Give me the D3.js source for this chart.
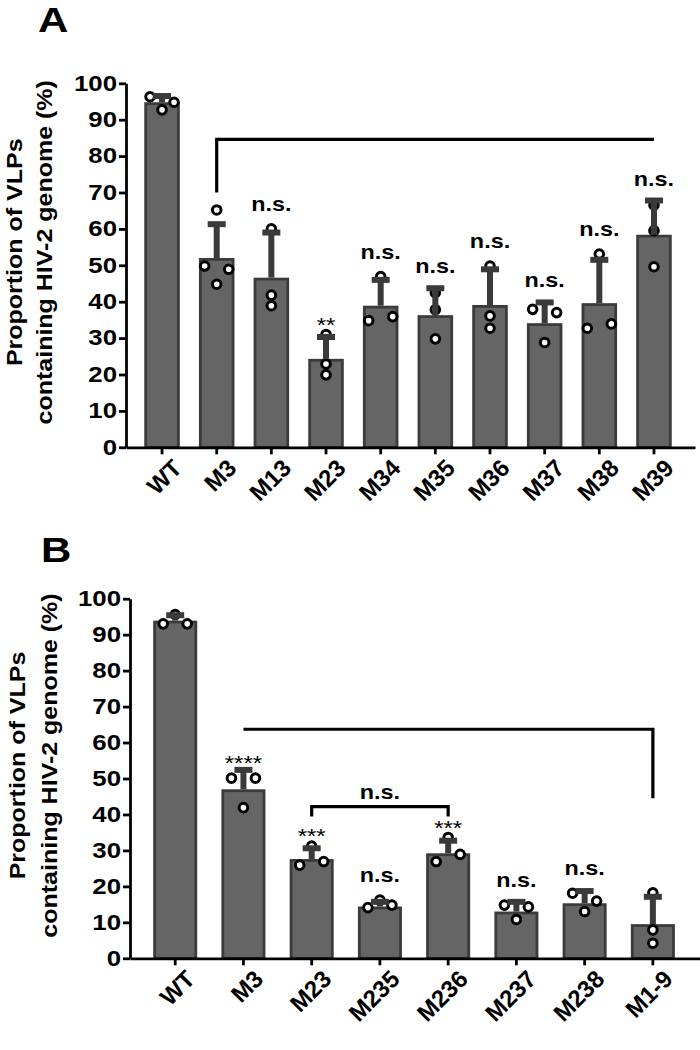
<!DOCTYPE html>
<html><head><meta charset="utf-8">
<script src="https://cdn.jsdelivr.net/npm/d3@7"></script>
<style>
body{margin:0;background:#fff}
svg{display:block}
text{font-family:"Liberation Sans",Arial,sans-serif}
</style>
</head><body>
<svg id="c" width="700" height="1050"></svg>
<script>
// ---------- DATA ----------
const yTicks = [0,10,20,30,40,50,60,70,80,90,100];

// Panel A
const catsA = ["WT","M3","M13","M23","M34","M35","M36","M37","M38","M39"];
const meanA = [94.8, 52.0, 46.6, 24.3, 38.9, 36.3, 39.1, 34.1, 39.6, 58.4];
const sdA   = [1.7, 9.3, 12.4, 6.0, 7.1, 7.4, 9.8, 5.7, 11.9, 9.4];
const ptsA  = [[96.3,92.7,94.8],[65.2,49.8,44.8,48.9],[60.0,41.8,38.9],[31.0,22.9,19.9],
               [46.9,34.8,35.9],[42.5,37.8,29.8],[49.8,36.1,32.7],[37.9,37.0,28.8],
               [53.1,32.7,33.9],[66.5,59.5,49.6]];
const sigA  = ["","","n.s.","**","n.s.","n.s.","n.s.","n.s.","n.s.","n.s."];
const bracketsA = [{from:"M3", to:"M39", level:84.6, dropFrom:70.0, dropTo:null, label:""}];

// Panel B
const catsB = ["WT","M3","M23","M235","M236","M237","M238","M1-9"];
const meanB = [93.9, 47.0, 27.6, 14.4, 29.2, 13.0, 15.3, 9.5];
const sdB   = [1.5, 5.4, 3.0, 1.3, 3.5, 2.7, 3.4, 7.6];
const ptsB  = [[93.0,95.6,93.0],[50.1,50.1,41.9],[25.9,31.2,26.9],[14.1,16.2,14.8],
               [26.9,33.6,28.9],[14.8,10.8,14.3],[18.1,13.0,15.9],[18.2,7.9,4.2]];
const sigB  = ["","****","***","n.s.","***","n.s.","n.s.",""];
const bracketsB = [{from:"M23", to:"M236", level:42.2, dropFrom:39.4, dropTo:39.4, label:"n.s."},
                   {from:"M3", to:"M1-9", level:63.7, dropFrom:null, dropTo:44.5, label:""}];

const yTitle1 = "Proportion of VLPs";
const yTitle2 = "containing HIV-2 genome (%)";

// ---------- DRAW ----------
const svg = d3.select("#c");
const SX = 1.2;            // horizontal stretch of the lettering
const SQ = 0.85;           // glyph-height squeeze for rotated lettering
const BAR_FILL = "#656565", BAR_STROKE = "#3b3b3b", ERR = "#3a3a3a";

function panel(o){
  const g = svg.append("g");
  const x = d3.scaleBand().domain(o.cats).range([o.x0, o.x1])
      .paddingInner(o.pi).paddingOuter(o.po).align(o.al);
  const y = d3.scaleLinear().domain([0,100]).range([o.yb, o.yt]);
  const bw = x.bandwidth(), cx = d => x(d) + bw/2;
  const sw = 2.8;

  // bars
  g.selectAll("rect.bar").data(o.cats).join("rect")
    .attr("x", d => x(d) + sw/2)
    .attr("width", bw - sw)
    .attr("y", (d,i) => y(o.mean[i]) + sw/2)
    .attr("height", (d,i) => y(0) - y(o.mean[i]) - sw/2)
    .attr("fill", BAR_FILL).attr("stroke", BAR_STROKE).attr("stroke-width", sw);

  // points with simple collision spreading
  const R = 4.3, D = 12, THR = 10;
  const pts = [];
  o.cats.forEach((c,i) => {
    const arr = o.pts[i].map((v,k) => ({v, k, c}));
    const sorted = arr.slice().sort((a,b) => b.v - a.v || a.k - b.k);
    const clusters = [];
    sorted.forEach(p => {
      const last = clusters[clusters.length-1];
      if (last && Math.abs(y(last[last.length-1].v) - y(p.v)) < THR) last.push(p);
      else clusters.push([p]);
    });
    clusters.forEach(cl => {
      cl.sort((a,b) => a.k - b.k);
      const n = cl.length;
      cl.forEach((p,j) => {
        p.dx = n === 1 ? 0 : n === 2 ? (j === 0 ? -D : D) : (j - (n-1)/2) * D;
        pts.push(p);
      });
    });
  });
  g.selectAll("circle.pt").data(pts).join("circle")
    .attr("cx", p => cx(p.c) + p.dx).attr("cy", p => y(p.v)).attr("r", R)
    .attr("fill", "#fff").attr("stroke", "#000").attr("stroke-width", 3);

  // error bars (upper only), drawn over points
  g.selectAll("line.stem").data(o.cats).join("line")
    .attr("x1", cx).attr("x2", cx)
    .attr("y1", (d,i) => y(o.mean[i])).attr("y2", (d,i) => y(o.mean[i] + o.sd[i]))
    .attr("stroke", ERR).attr("stroke-width", 6);
  g.selectAll("line.cap").data(o.cats).join("line")
    .attr("x1", d => cx(d) - 9).attr("x2", d => cx(d) + 9)
    .attr("y1", (d,i) => y(o.mean[i] + o.sd[i])).attr("y2", (d,i) => y(o.mean[i] + o.sd[i]))
    .attr("stroke", ERR).attr("stroke-width", 6);

  // axes
  const ya = g.append("g").attr("transform", `translate(${o.x0},0)`)
    .call(d3.axisLeft(y).tickValues(yTicks).tickSizeInner(7).tickSizeOuter(0).tickPadding(0.5));
  const xa = g.append("g").attr("transform", `translate(0,${o.yb})`)
    .call(d3.axisBottom(x).tickSizeInner(7).tickSizeOuter(0));
  [ya, xa].forEach(a => {
    a.select(".domain").attr("stroke", "#000").attr("stroke-width", 2.8);
    a.selectAll(".tick line").attr("stroke", "#000").attr("stroke-width", 2.8);
  });
  ya.selectAll(".tick text")
    .attr("font-size", 21.5).attr("font-weight", "bold").attr("fill", "#000")
    .attr("font-family", '"Liberation Sans",Arial,sans-serif')
    .attr("transform", `scale(${SX},1)`);
  xa.selectAll(".tick text")
    .attr("font-size", 24).attr("font-weight", "bold").attr("fill", "#000")
    .attr("font-family", '"Liberation Sans",Arial,sans-serif')
    .attr("x", 0).attr("y", 0).attr("dy", "0.72em")
    .attr("text-anchor", "end")
    .attr("transform", `translate(${o.lx},${o.ly}) rotate(-45)`);

  // significance labels
  const topOf = i => Math.min(y(o.mean[i] + o.sd[i]) - 3, y(d3.max(o.pts[i])) - R - 1.5);
  o.cats.forEach((c,i) => {
    const s = o.sig[i];
    if (!s) return;
    const star = s.includes("*");
    g.append("text")
      .attr("transform", `translate(${cx(c)},${topOf(i) + (star ? 3 : -12)}) scale(${SX},1)`)
      .attr("text-anchor", "middle")
      .attr("font-size", star ? 20 : 19.5)
      .attr("font-weight", star ? "normal" : "bold")
      .text(s);
  });

  // brackets
  o.brackets.forEach(b => {
    const xa0 = cx(b.from), xa1 = cx(b.to), yl = y(b.level);
    let p = "";
    p += b.dropFrom != null ? `M${xa0},${y(b.dropFrom)}L${xa0},${yl}` : `M${xa0},${yl}`;
    p += `L${xa1},${yl}`;
    if (b.dropTo != null) p += `L${xa1},${y(b.dropTo)}`;
    g.append("path").attr("d", p).attr("fill", "none").attr("stroke", "#000")
      .attr("stroke-width", 3.2).attr("stroke-linejoin", "miter");
    if (b.label) {
      g.append("text")
        .attr("transform", `translate(${(xa0 + xa1)/2},${yl - 8}) scale(${SX},1)`)
        .attr("text-anchor", "middle").attr("font-size", 19.5).attr("font-weight", "bold")
        .text(b.label);
    }
  });

  // y title
  const ym = (o.yb + o.yt) / 2 - 13;
  [[yTitle1, o.t1], [yTitle2, o.t2]].forEach(([t, bx]) => {
    g.append("text")
      .attr("transform", `translate(${bx},${ym}) rotate(-90) scale(1,${SQ})`)
      .attr("text-anchor", "middle").attr("font-size", 25).attr("font-weight", "bold")
      .text(t);
  });

  // panel letter
  g.append("text")
    .attr("transform", `translate(${o.letterX},${o.letterY}) scale(${SX},1)`)
    .attr("font-size", 35).attr("font-weight", "bold").text(o.letter);
}

panel({cats:catsA, mean:meanA, sd:sdA, pts:ptsA, sig:sigA, brackets:bracketsA,
       x0:126, x1:695, pi:0.35, po:0.38, al:0.44, yb:447.3, yt:83.3,
       lx:9, ly:10, t1:22, t2:52, letter:"A", letterX:38, letterY:32});
panel({cats:catsB, mean:meanB, sd:sdB, pts:ptsB, sig:sigB, brackets:bracketsB,
       x0:130, x1:700, pi:0.355, po:0.354, al:0.48, yb:958.3, yt:598.7,
       lx:9, ly:10, t1:25, t2:57, letter:"B", letterX:41, letterY:562});
</script>
</body></html>
